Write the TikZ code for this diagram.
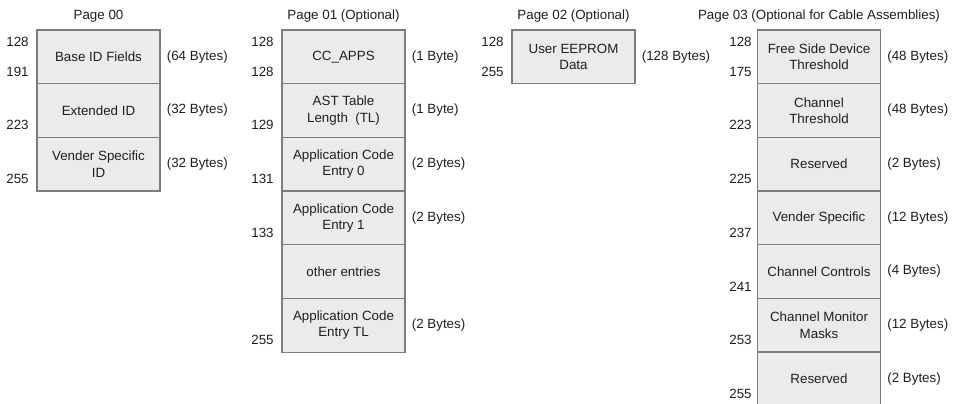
\documentclass[tikz,border=0pt]{standalone}
\usepackage{fontspec}
\setmainfont{Liberation Sans}
\usetikzlibrary{positioning}

\definecolor{cellgray}{RGB}{235,235,235}
\definecolor{linegray}{RGB}{125,125,125}

\begin{document}
\begin{tikzpicture}[x=0.02cm, y=-0.02cm,
            every node/.style={font=\fontsize{7.6}{9.3}\selectfont, text=black!88},
            cell/.style={draw=linegray, fill=cellgray, line width=0.6pt, minimum width=2.46cm,
                minimum height=1.073cm, inner sep=0pt, align=center},
            addr/.style={anchor=east, inner sep=0pt},
            size/.style={inner sep=0pt, node distance=0.12cm}]
            \useasboundingbox (0,0) rectangle (953,403);

            % Page 00
            \node (ta) at (98.5, 16) {Page 00};
            \node[cell] (a0) at (98.5, 56.8) {Base ID Fields};
            \node[cell] (a1) at (98.5, 110.5) {Extended ID};
            \node[cell] (a2) at (98.5, 164.2) {Vender Specific\\ID};
            \node[size, right=of a0] (sa0) {(64 Bytes)};
            \node[size, right=of a1] (sa1) {(32 Bytes)};
            \node[size, right=of a2] (sa2) {(32 Bytes)};
            \node[addr] (na) at ([shift={(-0.15cm,-0.24cm)}]a0.north west) {128};
            \node[addr] (na0) at ([shift={(-0.15cm,0.25cm)}]a0.south west) {191};
            \node[addr] (na1) at ([shift={(-0.15cm,0.25cm)}]a1.south west) {223};
            \node[addr] (na2) at ([shift={(-0.15cm,0.25cm)}]a2.south west) {255};

            % Page 01
            \node (tb) at (343.5, 16) {Page 01 (Optional)};
            \node[cell] (b0) at (343.5, 56.8) {CC\_APPS};
            \node[cell] (b1) at (343.5, 110.5) {AST Table\\Length~~(TL)};
            \node[cell] (b2) at (343.5, 164.2) {Application Code\\Entry 0};
            \node[cell] (b3) at (343.5, 217.8) {Application Code\\Entry 1};
            \node[cell] (b4) at (343.5, 271.5) {other entries};
            \node[cell] (b5) at (343.5, 325.2) {Application Code\\Entry TL};
            \node[size, right=of b0] (sb0) {(1 Byte)};
            \node[size, right=of b1] (sb1) {(1 Byte)};
            \node[size, right=of b2] (sb2) {(2 Bytes)};
            \node[size, right=of b3] (sb3) {(2 Bytes)};
            \node[size, right=of b5] (sb5) {(2 Bytes)};
            \node[addr] (nb) at ([shift={(-0.15cm,-0.24cm)}]b0.north west) {128};
            \node[addr] (nb0) at ([shift={(-0.15cm,0.25cm)}]b0.south west) {128};
            \node[addr] (nb1) at ([shift={(-0.15cm,0.25cm)}]b1.south west) {129};
            \node[addr] (nb2) at ([shift={(-0.15cm,0.25cm)}]b2.south west) {131};
            \node[addr] (nb3) at ([shift={(-0.15cm,0.25cm)}]b3.south west) {133};
            \node[addr] (nb5) at ([shift={(-0.15cm,0.25cm)}]b5.south west) {255};

            % Page 02
            \node (tc) at (573.5, 16) {Page 02 (Optional)};
            \node[cell] (c0) at (573.5, 56.8) {User EEPROM\\Data};
            \node[size, right=of c0] (sc0) {(128 Bytes)};
            \node[addr] (nc) at ([shift={(-0.15cm,-0.24cm)}]c0.north west) {128};
            \node[addr] (nc0) at ([shift={(-0.15cm,0.25cm)}]c0.south west) {255};

            % Page 03
            \node (td) at (819, 16) {Page 03 (Optional for Cable Assemblies)};
            \node[cell] (d0) at (819, 56.8) {Free Side Device\\Threshold};
            \node[cell] (d1) at (819, 110.5) {Channel\\Threshold};
            \node[cell] (d2) at (819, 164.2) {Reserved};
            \node[cell] (d3) at (819, 217.8) {Vender Specific};
            \node[cell] (d4) at (819, 271.5) {Channel Controls};
            \node[cell] (d5) at (819, 325.2) {Channel Monitor\\Masks};
            \node[cell] (d6) at (819, 378.8) {Reserved};
            \node[size, right=of d0] (sd0) {(48 Bytes)};
            \node[size, right=of d1] (sd1) {(48 Bytes)};
            \node[size, right=of d2] (sd2) {(2 Bytes)};
            \node[size, right=of d3] (sd3) {(12 Bytes)};
            \node[size, right=of d4] (sd4) {(4 Bytes)};
            \node[size, right=of d5] (sd5) {(12 Bytes)};
            \node[size, right=of d6] (sd6) {(2 Bytes)};
            \node[addr] (nd) at ([shift={(-0.1cm,-0.24cm)}]d0.north west) {128};
            \node[addr] (nd0) at ([shift={(-0.1cm,0.25cm)}]d0.south west) {175};
            \node[addr] (nd1) at ([shift={(-0.1cm,0.25cm)}]d1.south west) {223};
            \node[addr] (nd2) at ([shift={(-0.1cm,0.25cm)}]d2.south west) {225};
            \node[addr] (nd3) at ([shift={(-0.1cm,0.25cm)}]d3.south west) {237};
            \node[addr] (nd4) at ([shift={(-0.1cm,0.25cm)}]d4.south west) {241};
            \node[addr] (nd5) at ([shift={(-0.1cm,0.25cm)}]d5.south west) {253};
            \node[addr] (nd6) at ([shift={(-0.1cm,0.25cm)}]d6.south west) {255};
        \end{tikzpicture}
\end{document}
